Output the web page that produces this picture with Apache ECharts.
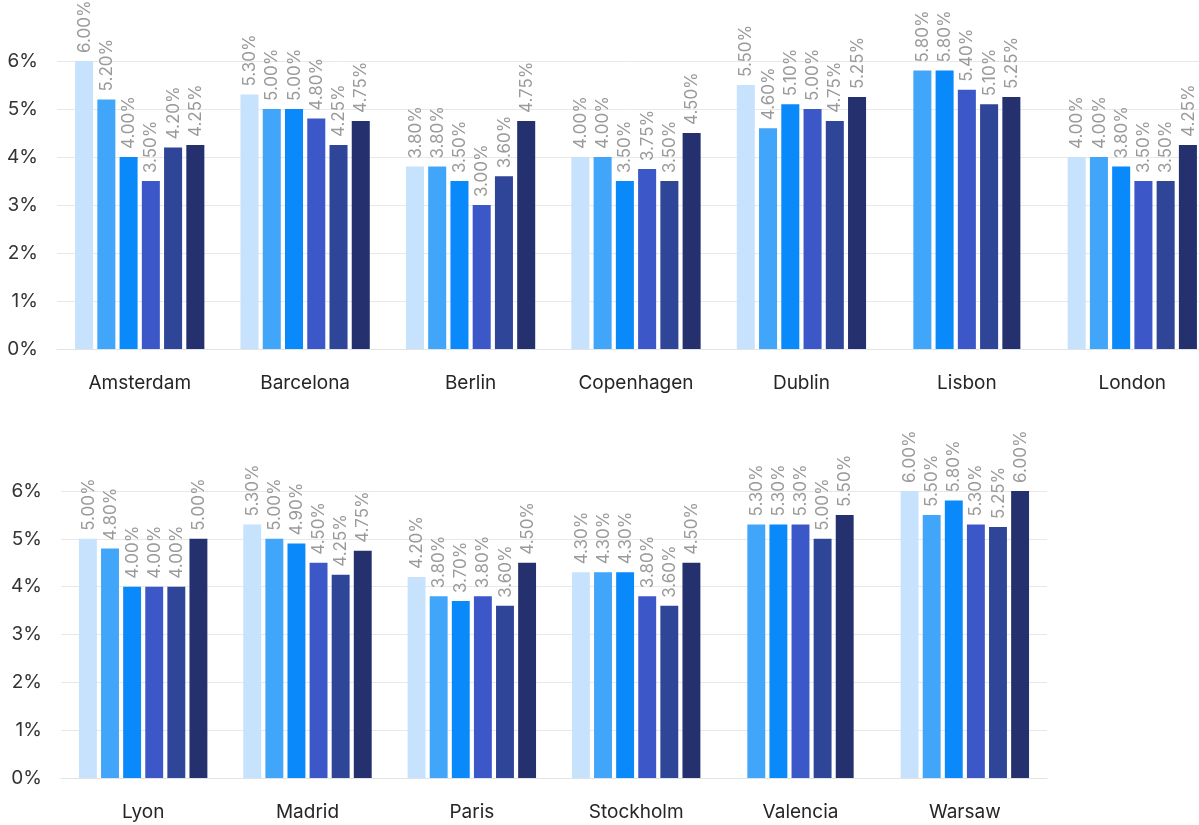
<!DOCTYPE html>
<html>
<head>
<meta charset="utf-8">
<style>
  html, body { margin: 0; padding: 0; background: #ffffff; }
  #chart { width: 1199px; height: 825px; }
</style>
<script src="https://cdn.jsdelivr.net/npm/echarts@6/dist/echarts.min.js"></script>
</head>
<body>
<div id="chart"></div>
<script>
// Cities per row
const citiesTop = ['Amsterdam', 'Barcelona', 'Berlin', 'Copenhagen', 'Dublin', 'Lisbon', 'London'];
const citiesBottom = ['Lyon', 'Madrid', 'Paris', 'Stockholm', 'Valencia', 'Warsaw'];

// Six rate series, one value per city (top row first, then bottom row); null = no bar
const set1 = [6.00, 5.30, 3.80, 4.00, 5.50, null, 4.00, 5.00, 5.30, 4.20, 4.30, null, 6.00];
const set2 = [5.20, 5.00, 3.80, 4.00, 4.60, 5.80, 4.00, 4.80, 5.00, 3.80, 4.30, 5.30, 5.50];
const set3 = [4.00, 5.00, 3.50, 3.50, 5.10, 5.80, 3.80, 4.00, 4.90, 3.70, 4.30, 5.30, 5.80];
const set4 = [3.50, 4.80, 3.00, 3.75, 5.00, 5.40, 3.50, 4.00, 4.50, 3.80, 3.80, 5.30, 5.30];
const set5 = [4.20, 4.25, 3.60, 3.50, 4.75, 5.10, 3.50, 4.00, 4.25, 3.60, 3.60, 5.00, 5.25];
const set6 = [4.25, 4.75, 4.75, 4.50, 5.25, 5.25, 4.25, 5.00, 4.75, 4.50, 4.50, 5.50, 6.00];

// Value axis ticks (percent)
const yTicks = [0, 1, 2, 3, 4, 5, 6];

const sets = [set1, set2, set3, set4, set5, set6];
const palette = ['#c6e2fd', '#41a5fa', '#0a89fb', '#3c58c8', '#2f4598', '#25306f'];
const FONT = 'Inter, "Noto Sans", sans-serif';

// Bars present for a city collapse together and stay centred on the category
function presentSets(ci) {
  const out = [];
  sets.forEach((s, k) => { if (s[ci] !== null && s[ci] !== undefined) out.push(k); });
  return out;
}

function renderBar(params, api) {
  const ci = api.value(0);
  const v = api.value(1);
  const pos = api.value(2);
  const n = api.value(3);
  const band = api.size([1, 0])[0];
  const pitch = band * 0.1345;
  const w = band * 0.109;
  const top = api.coord([ci, v]);
  const base = api.coord([ci, 0]);
  const cx = top[0] + (pos - (n - 1) / 2) * pitch;
  return {
    type: 'group',
    children: [
      {
        type: 'rect',
        shape: { x: cx - w / 2, y: top[1], width: w, height: base[1] - top[1] },
        style: { fill: api.visual('color') }
      },
      {
        type: 'text',
        x: cx + 0.5,
        y: top[1] - 8,
        rotation: Math.PI / 2,
        style: {
          text: v.toFixed(2) + '%',
          fill: '#9a9a9a',
          font: '17px ' + FONT,
          align: 'left',
          verticalAlign: 'middle'
        }
      }
    ]
  };
}

const rows = [
  { cities: citiesTop, offset: 0 },
  { cities: citiesBottom, offset: citiesTop.length }
];

const series = [];
rows.forEach((row, g) => {
  sets.forEach((s, k) => {
    const data = [];
    row.cities.forEach((c, i) => {
      const ci = row.offset + i;
      const present = presentSets(ci);
      const pos = present.indexOf(k);
      if (pos >= 0) data.push([i, s[ci], pos, present.length]);
    });
    series.push({
      type: 'custom',
      xAxisIndex: g,
      yAxisIndex: g,
      clip: false,
      itemStyle: { color: palette[k] },
      renderItem: renderBar,
      encode: { x: 0, y: 1 },
      data: data
    });
  });
});

function xAxisFor(g, cities) {
  return {
    type: 'category',
    gridIndex: g,
    data: cities,
    axisTick: { show: false },
    axisLine: { show: true, lineStyle: { color: '#e3e3e3', width: 1 } },
    axisLabel: { color: '#262626', fontSize: 19, fontFamily: FONT, margin: 25, interval: 0 },
    splitLine: { show: false }
  };
}

function yAxisFor(g) {
  return {
    type: 'value',
    gridIndex: g,
    min: yTicks[0],
    max: yTicks[yTicks.length - 1],
    interval: 1,
    axisLine: { show: false },
    axisTick: { show: false },
    axisLabel: {
      color: '#333333',
      fontSize: 19,
      fontFamily: FONT,
      margin: 19,
      formatter: v => v + '%'
    },
    splitLine: { show: true, lineStyle: { color: '#e8e8e8', width: 1 } }
  };
}

const chart = echarts.init(document.getElementById('chart'), null, { renderer: 'canvas' });
chart.setOption({
  backgroundColor: '#ffffff',
  animation: false,
  grid: [
    { left: 57, top: 61, width: 1158, height: 288, containLabel: false, outerBoundsMode: 'none' },
    { left: 61, top: 491, width: 986, height: 287, containLabel: false, outerBoundsMode: 'none' }
  ],
  xAxis: [xAxisFor(0, citiesTop), xAxisFor(1, citiesBottom)],
  yAxis: [yAxisFor(0), yAxisFor(1)],
  series: series
});
</script>
</body>
</html>
